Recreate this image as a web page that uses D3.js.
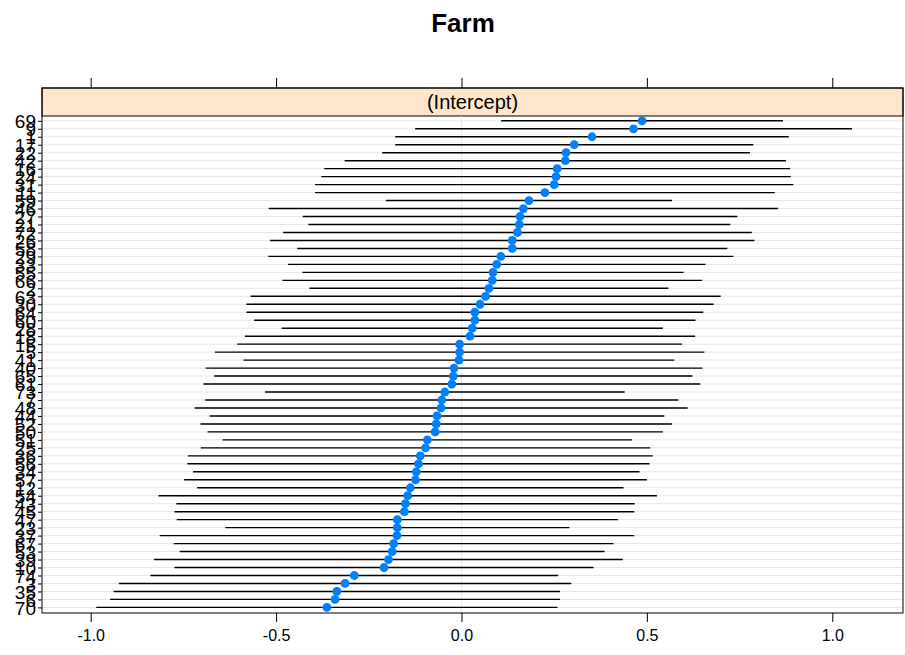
<!DOCTYPE html>
<html>
<head>
<meta charset="utf-8">
<script src="https://cdn.jsdelivr.net/npm/d3@7"></script>
<style>
  html, body { margin: 0; padding: 0; background: #fff; }
  svg { display: block; font-family: "Liberation Sans", Arial, sans-serif; }
</style>
</head>
<body>
<svg id="chart" width="905" height="655"></svg>
<script>
// Farm random intercepts, ordered from top row to bottom row
const farms = ["69","9","1","17","22","42","16","24","31","11","59","46","27","21","72","26",
  "58","29","33","55","66","2","63","30","64","60","28","18","15","5","41","40",
  "65","61","73","7","48","44","52","50","51","25","36","56","34","57","12","54",
  "43","45","47","23","37","67","53","39","10","74","3","35","6","70"];

// conditional mode of each intercept
const estimate = [0.487,0.464,0.352,0.304,0.282,0.280,0.258,0.255,0.250,0.225,0.182,0.167,0.158,0.156,0.151,0.137,
  0.137,0.106,0.095,0.085,0.083,0.074,0.065,0.050,0.036,0.036,0.029,0.023,-0.005,-0.005,-0.007,-0.020,
  -0.022,-0.026,-0.045,-0.053,-0.055,-0.066,-0.068,-0.071,-0.092,-0.097,-0.111,-0.116,-0.122,-0.124,-0.138,-0.145,
  -0.151,-0.154,-0.173,-0.173,-0.174,-0.183,-0.187,-0.197,-0.209,-0.289,-0.314,-0.336,-0.341,-0.363];

// half-width of the interval around each mode
const halfWidth = [0.380,0.589,0.531,0.483,0.496,0.595,0.628,0.633,0.645,0.620,0.386,0.687,0.586,0.569,0.632,0.653,
  0.580,0.627,0.563,0.514,0.566,0.484,0.634,0.630,0.616,0.595,0.514,0.607,0.600,0.660,0.581,0.670,
  0.645,0.670,0.485,0.638,0.665,0.613,0.636,0.614,0.552,0.606,0.627,0.623,0.602,0.624,0.575,0.672,
  0.618,0.620,0.595,0.464,0.640,0.593,0.573,0.632,0.565,0.550,0.610,0.602,0.607,0.622];

const xTicks = [-1.0, -0.5, 0.0, 0.5, 1.0];
const stripLabel = "(Intercept)";
const title = "Farm";

const rows = farms.map((f, i) => ({ farm: f, est: estimate[i], lo: estimate[i] - halfWidth[i], hi: estimate[i] + halfWidth[i] }));

const svg = d3.select("#chart");
const panel = { left: 42, right: 903, top: 116, bottom: 613 };
const stripTop = 88;

const x = d3.scaleLinear().domain([-1.1313, 1.1907]).range([panel.left, panel.right]);
const y = d3.scalePoint().domain(farms).range([120.8, 607.4]);

// title
svg.append("text")
  .attr("x", 463).attr("y", 32)
  .attr("text-anchor", "middle")
  .attr("font-size", 26).attr("font-weight", "bold")
  .text(title);

// strip
svg.append("rect")
  .attr("x", panel.left).attr("y", stripTop)
  .attr("width", panel.right - panel.left).attr("height", panel.top - stripTop)
  .attr("fill", "#ffe5cc").attr("stroke", "#000").attr("stroke-width", 1);
svg.append("text")
  .attr("x", (panel.left + panel.right) / 2).attr("y", (stripTop + panel.top) / 2 + 7)
  .attr("text-anchor", "middle").attr("font-size", 20)
  .text(stripLabel);

// row guide lines
svg.append("g").selectAll("line").data(rows).join("line")
  .attr("x1", panel.left).attr("x2", panel.right)
  .attr("y1", d => y(d.farm)).attr("y2", d => y(d.farm))
  .attr("stroke", "#e6e6e6").attr("stroke-width", 1);

// zero reference
svg.append("line")
  .attr("x1", x(0)).attr("x2", x(0))
  .attr("y1", panel.top).attr("y2", panel.bottom)
  .attr("stroke", "#e6e6e6").attr("stroke-width", 1);

// intervals
svg.append("g").selectAll("line").data(rows).join("line")
  .attr("x1", d => x(d.lo)).attr("x2", d => x(d.hi))
  .attr("y1", d => y(d.farm)).attr("y2", d => y(d.farm))
  .attr("stroke", "#000").attr("stroke-width", 1.4);

// modes
svg.append("g").selectAll("circle").data(rows).join("circle")
  .attr("cx", d => x(d.est)).attr("cy", d => y(d.farm))
  .attr("r", 4.4).attr("fill", "#0080ff");

// panel frame
svg.append("rect")
  .attr("x", panel.left).attr("y", stripTop)
  .attr("width", panel.right - panel.left).attr("height", panel.bottom - stripTop)
  .attr("fill", "none").attr("stroke", "#000").attr("stroke-width", 1);

const fmt = d => d.toFixed(1);

// bottom axis
const gb = svg.append("g").attr("transform", `translate(0,${panel.bottom})`)
  .call(d3.axisBottom(x).tickValues(xTicks).tickFormat(fmt).tickSize(9).tickPadding(8));
// top axis (ticks only)
const gt = svg.append("g").attr("transform", `translate(0,${stripTop})`)
  .call(d3.axisTop(x).tickValues(xTicks).tickFormat("").tickSize(10));
// left axis
const gl = svg.append("g").attr("transform", `translate(${panel.left},0)`)
  .call(d3.axisLeft(y).tickSize(4).tickPadding(2));

[gb, gt, gl].forEach(g => {
  g.select(".domain").remove();
  g.selectAll(".tick line").attr("stroke", "#000");
  g.selectAll(".tick text").attr("fill", "#000")
    .attr("font-family", "'Liberation Sans', Arial, sans-serif");
});
gb.selectAll(".tick text").attr("font-size", 16);
gl.selectAll(".tick text").attr("font-size", 19).attr("dy", "0.36em");
</script>
</body>
</html>
